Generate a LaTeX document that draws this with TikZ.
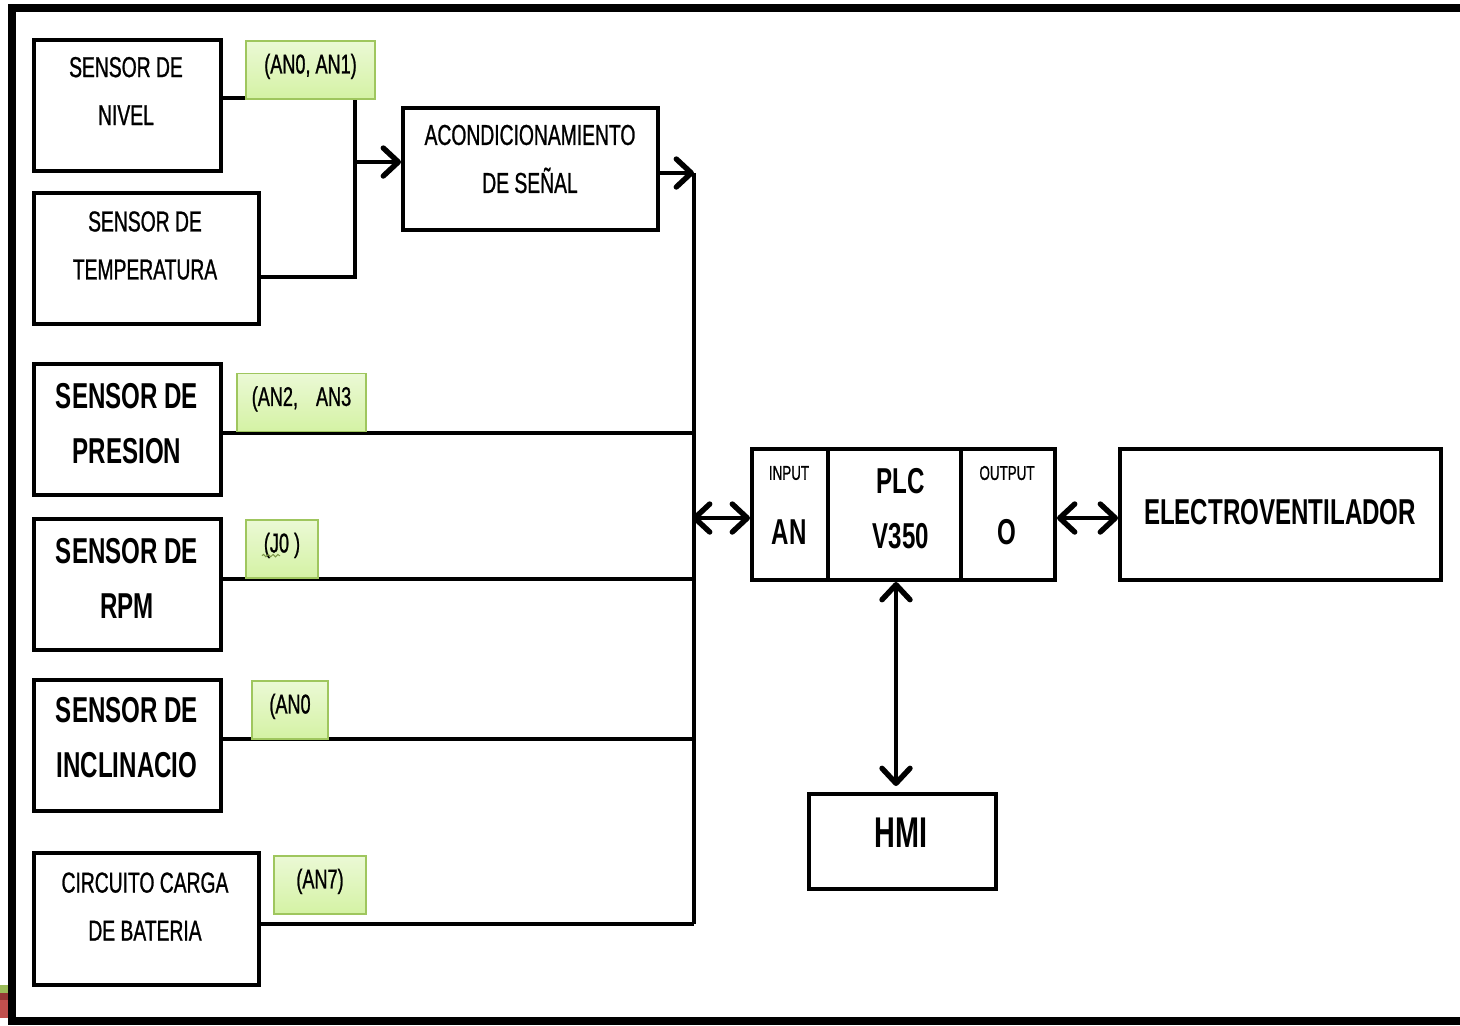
\documentclass[tikz,border=0pt]{standalone}
\usepackage{fontspec}
\setmainfont{Liberation Sans}[FakeStretch=0.67]
\newfontfamily\narrowfont{Liberation Sans}[FakeStretch=0.67, FakeBold=0.9]
\usepackage{xcolor}
\usepackage{tikz}
\usetikzlibrary{arrows.meta,positioning,calc,decorations.pathmorphing}
\definecolor{tagtop}{HTML}{EBF9D5}
\definecolor{tagbot}{HTML}{D4F2A4}
\definecolor{tagln}{HTML}{9FC65E}
\definecolor{olv}{HTML}{9BBB59}
\definecolor{redk}{HTML}{953735}
\definecolor{redl}{HTML}{C0504D}
\tikzset{
  blk/.style={rectangle, draw=black, fill=white, line width=2pt, inner sep=0pt},
  txt/.style={align=center, inner sep=0pt, font=\narrowfont\fontsize{14.4}{24}\selectfont},
  txtb/.style={align=center, inner sep=0pt, font=\bfseries\fontsize{18}{27.5}\selectfont},
  small/.style={inner sep=0pt, font=\narrowfont\fontsize{10}{12}\selectfont},
  tag/.style={rectangle, draw=tagln, line width=0.8pt, top color=tagtop, bottom color=tagbot,
              inner sep=0pt, minimum height=29pt, text height=16.2pt, text depth=12.8pt,
              font=\narrowfont\fontsize{13.5}{16}\selectfont},
  ln/.style={line width=2pt},
  barb/.tip={Straight Barb[length=7.5pt,width=14pt,line width=2.7pt,round]},
  arr/.style={ln, -barb},
  darr/.style={ln, barb-barb},
  sq/.style={draw=olv!80!black, line width=0.5pt, decorate,
             decoration={snake, amplitude=0.6pt, segment length=2.4pt}},
}

\begin{document}
\begin{tikzpicture}[x=0.5pt, y=-0.5pt]
  \useasboundingbox (0,0) rectangle (1460,1025);
  % frame
  \fill[olv] (0,985) rectangle (8,993);
  \fill[redk] (0,993) rectangle (8,1000);
  \fill[redl] (0,1000) rectangle (8,1018);
  \draw[line width=4pt] (1460,8) -- (12,8) -- (12,1021) -- (1460,1021);

  % sensors
  \node[blk, minimum width=93.5pt, minimum height=65.5pt] (nivel) at (127.5,105.5) {};
  \node[blk, minimum width=112.5pt, minimum height=65.5pt] (temp) at (146.5,258.5) {};
  \node[blk, minimum width=127.5pt, minimum height=61pt] (acond) at (530.5,169) {};
  \node[blk, minimum width=93.5pt, minimum height=65.5pt] (presion) at (127.5,429.5) {};
  \node[blk, minimum width=93.5pt, minimum height=65.5pt] (rpm) at (127.5,584.5) {};
  \node[blk, minimum width=93.5pt, minimum height=65.5pt] (incl) at (127.5,745.5) {};
  \node[blk, minimum width=112.5pt, minimum height=66pt] (bat) at (146.5,919) {};

  \node[txt] (nivel-t) at (126,91) {SENSOR DE\\NIVEL};
  \node[txt] (temp-t) at (145,245.5) {SENSOR DE\\TEMPERATURA};
  \node[txt] (acond-t) at (530,159) {ACONDICIONAMIENTO\\DE SEÑAL};
  \node[txtb] (presion-t) at (127,423.5) {SENSOR DE\\PRESION};
  \node[txtb] (rpm-t) at (127,578) {SENSOR DE\\RPM};
  \node[txtb] (incl-t) at (127,737.5) {SENSOR DE\\INCLINACIO};
  \node[txt] (bat-t) at (145,906.5) {CIRCUITO CARGA\\DE BATERIA};

  % plc, fan, hmi
  \node[blk, minimum width=38pt, minimum height=65.5pt] (plcin) at (790,514.5) {};
  \node[blk, minimum width=66.5pt, minimum height=65.5pt] (plc) at (894.5,514.5) {};
  \node[blk, minimum width=47pt, minimum height=65.5pt] (plcout) at (1008,514.5) {};
  \node[blk, minimum width=160.5pt, minimum height=65.5pt] (elec) at (1280.5,514.5) {};
  \node[blk, minimum width=93.5pt, minimum height=47.5pt] (hmi) at (902.5,841.5) {};

  \node[small] (in-t) at (789,473) {INPUT};
  \node[txtb] (an-t) at (789,532) {AN};
  \node[txtb] (plc-t) at (901,508.5) {PLC\\V350};
  \node[small] (out-t) at (1007,473) {OUTPUT};
  \node[txtb] (o-t) at (1007,532) {O};
  \node[txtb] (elec-t) at (1280,512) {ELECTROVENTILADOR};
  \node[txtb, font=\bfseries\fontsize{21.5}{24}\selectfont] (hmi-t) at (901,833) {HMI};

  % wiring
  \coordinate (m-top) at (355,98);
  \coordinate (m-mid) at (355,162);
  \coordinate (m-bot) at (355,277);
  \coordinate (bus-top) at (694,173);
  \coordinate (bus-bot) at (694,924);
  \coordinate (j-pres) at (694,433);
  \coordinate (j-rpm) at (694,579);
  \coordinate (j-incl) at (694,739);
  \coordinate (j-plc) at (692,518);

  \draw[ln] (nivel.east |- m-top) -- (m-top) -- (m-bot) -- (temp.east |- m-bot);
  \draw[arr] (m-mid) -- (acond.west |- m-mid);
  \draw[arr] (acond.east |- bus-top) -- (bus-top);
  \draw[ln] (bus-top) -- (bus-bot);
  \draw[ln] (presion.east |- j-pres) -- (j-pres);
  \draw[ln] (rpm.east |- j-rpm) -- (j-rpm);
  \draw[ln] (incl.east |- j-incl) -- (j-incl);
  \draw[ln] (bat.east |- bus-bot) -- (bus-bot);
  \draw[darr] (j-plc) -- (plcin.west |- j-plc);
  \draw[darr] ([yshift=-1.75pt]plcout.east) -- ([yshift=-1.75pt]elec.west);
  \draw[darr] ([xshift=0.75pt]plc.south) -- ([xshift=0.75pt,yshift=3pt]plc.south |- hmi.north);

  % channel tags
  \node[tag, minimum width=64.5pt] (tag-n) at (310.5,70) {(AN0, AN1)};
  \node[tag, minimum width=64.5pt] (tag-p) at (301.5,402.5) {(AN2,\hspace{9pt}AN3};
  \node[tag, minimum width=36pt] (tag-r) at (282,549) {(J0 )};
  \node[tag, minimum width=38pt] (tag-i) at (290,710) {(AN0};
  \node[tag, minimum width=46pt] (tag-b) at (320,885) {(AN7)};
  \draw[sq] ([xshift=-10pt,yshift=-1.6pt]tag-r.base) -- ([xshift=-1pt,yshift=-1.6pt]tag-r.base);
\end{tikzpicture}
\end{document}
